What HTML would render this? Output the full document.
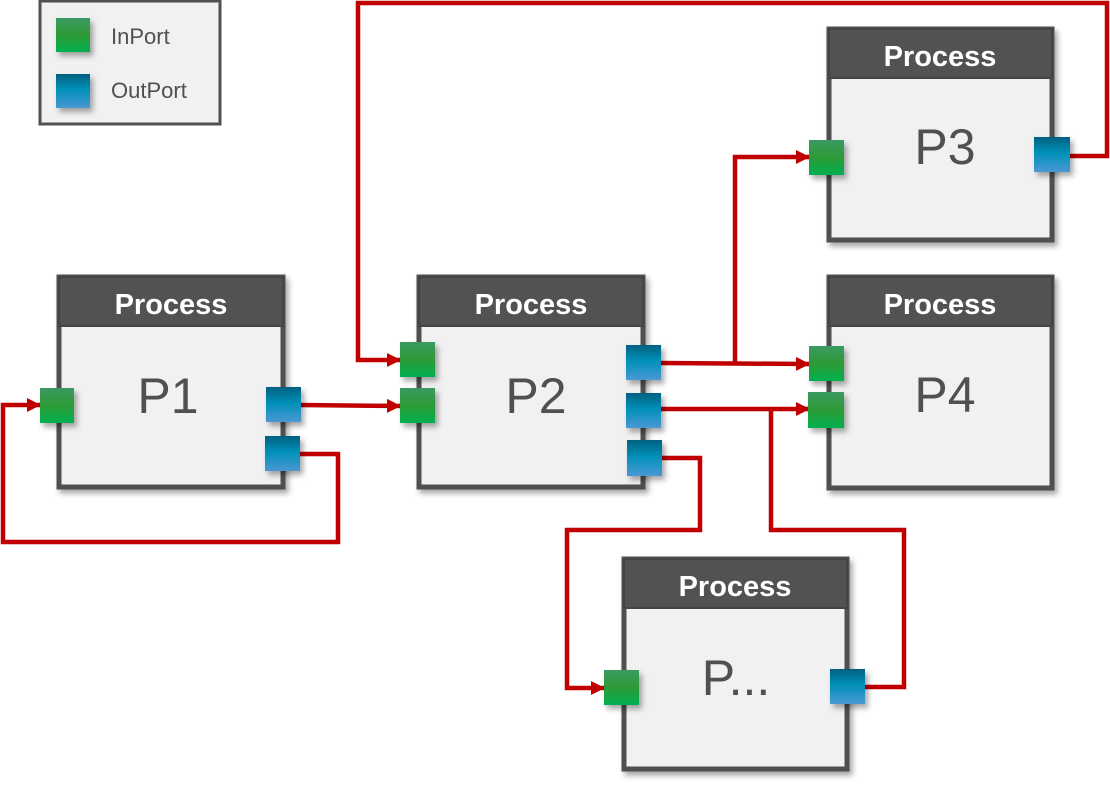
<!DOCTYPE html>
<html><head><meta charset="utf-8"><style>
html,body{margin:0;padding:0;background:#fff;}
svg{display:block;}
text{font-family:"Liberation Sans","DejaVu Sans",sans-serif;}
</style></head><body>
<svg width="1110" height="786" viewBox="0 0 1110 786" xmlns="http://www.w3.org/2000/svg">
<defs>
<linearGradient id="gin" x1="0" y1="0" x2="0" y2="1">
<stop offset="0" stop-color="#3a9a62"/><stop offset="0.5" stop-color="#2e9a36"/><stop offset="1" stop-color="#00b050"/>
</linearGradient>
<linearGradient id="gout" x1="0" y1="0" x2="0" y2="1">
<stop offset="0" stop-color="#006080"/><stop offset="0.45" stop-color="#0090b8"/><stop offset="1" stop-color="#4a98d4"/>
</linearGradient>
<filter id="sh" x="-20%" y="-20%" width="150%" height="150%">
<feDropShadow dx="3" dy="4" stdDeviation="3" flood-color="#000" flood-opacity="0.35"/>
</filter>
<marker id="ar" markerWidth="14" markerHeight="14" refX="13" refY="7" orient="auto" markerUnits="userSpaceOnUse">
<path d="M0,0 L14,7 L0,14 Z" fill="#c00000"/>
</marker>
</defs>

<!-- Legend -->
<rect x="40" y="1" width="180" height="123" fill="#f1f1f1" stroke="#505050" stroke-width="3"/>
<rect x="56" y="18" width="34" height="34" fill="url(#gin)" filter="url(#sh)"/>
<rect x="56" y="74" width="34" height="34" fill="url(#gout)" filter="url(#sh)"/>
<text x="111" y="44" font-size="22" fill="#505050">InPort</text>
<text x="111" y="98" font-size="22" fill="#505050">OutPort</text>

<!-- connectors -->
<g fill="none" stroke="#c00000" stroke-width="4.5">
<path d="M300,405 L400,406" marker-end="url(#ar)"/>
<path d="M300,454 L338,454 L338,542 L3,542 L3,405 L40,405" marker-end="url(#ar)"/>
<path d="M661,363 L809,364" marker-end="url(#ar)"/>
<path d="M735,363 L735,157 L809,157" marker-end="url(#ar)"/>
<path d="M661,409 L809,409" marker-end="url(#ar)"/>
<path d="M771,409 L771,530 L904,530 L904,687 L865,687"/>
<path d="M661,458 L700,458 L700,530 L567,530 L567,688 L604,688" marker-end="url(#ar)"/>
<path d="M1069,156 L1107,156 L1107,3 L358,3 L358,360 L400,360" marker-end="url(#ar)"/>
</g>

<!-- boxes -->
<g id="boxes">
<g filter="url(#sh)">
<rect x="59" y="277" width="224" height="210" fill="#f1f1f1" stroke="#505050" stroke-width="5"/>
<rect x="419" y="277" width="224" height="210" fill="#f1f1f1" stroke="#505050" stroke-width="5"/>
<rect x="829" y="29" width="223" height="211" fill="#f1f1f1" stroke="#505050" stroke-width="5"/>
<rect x="829" y="277" width="223" height="211" fill="#f1f1f1" stroke="#505050" stroke-width="5"/>
<rect x="624" y="559" width="223" height="210" fill="#f1f1f1" stroke="#505050" stroke-width="5"/>
</g>
<rect x="59" y="277" width="224" height="49" fill="#525252" stroke="#444" stroke-width="2"/>
<rect x="419" y="277" width="224" height="49" fill="#525252" stroke="#444" stroke-width="2"/>
<rect x="829" y="29" width="223" height="49" fill="#525252" stroke="#444" stroke-width="2"/>
<rect x="829" y="277" width="223" height="49" fill="#525252" stroke="#444" stroke-width="2"/>
<rect x="624" y="559" width="223" height="49" fill="#525252" stroke="#444" stroke-width="2"/>
<g fill="#fff" font-size="29" font-weight="bold" text-anchor="middle">
<text x="171" y="314">Process</text>
<text x="531" y="314">Process</text>
<text x="940" y="66">Process</text>
<text x="940" y="314">Process</text>
<text x="735" y="596">Process</text>
</g>
<g fill="#505050" font-size="50" text-anchor="middle">
<text x="168" y="413">P1</text>
<text x="536" y="413">P2</text>
<text x="945" y="164">P3</text>
<text x="945" y="412">P4</text>
<text x="736" y="695">P...</text>
</g>
</g>

<!-- ports -->
<g filter="url(#sh)">
<rect x="40" y="388" width="34" height="35" fill="url(#gin)"/>
<rect x="266" y="387" width="35" height="35" fill="url(#gout)"/>
<rect x="265" y="436" width="35" height="35" fill="url(#gout)"/>
<rect x="400" y="342" width="35" height="35" fill="url(#gin)"/>
<rect x="400" y="388" width="35" height="35" fill="url(#gin)"/>
<rect x="626" y="345" width="35" height="35" fill="url(#gout)"/>
<rect x="626" y="393" width="35" height="35" fill="url(#gout)"/>
<rect x="627" y="440" width="35" height="36" fill="url(#gout)"/>
<rect x="809" y="140" width="35" height="35" fill="url(#gin)"/>
<rect x="1034" y="137" width="36" height="35" fill="url(#gout)"/>
<rect x="809" y="346" width="35" height="35" fill="url(#gin)"/>
<rect x="808" y="392" width="36" height="36" fill="url(#gin)"/>
<rect x="604" y="670" width="35" height="35" fill="url(#gin)"/>
<rect x="830" y="669" width="35" height="35" fill="url(#gout)"/>
</g>
</svg>
</body></html>
